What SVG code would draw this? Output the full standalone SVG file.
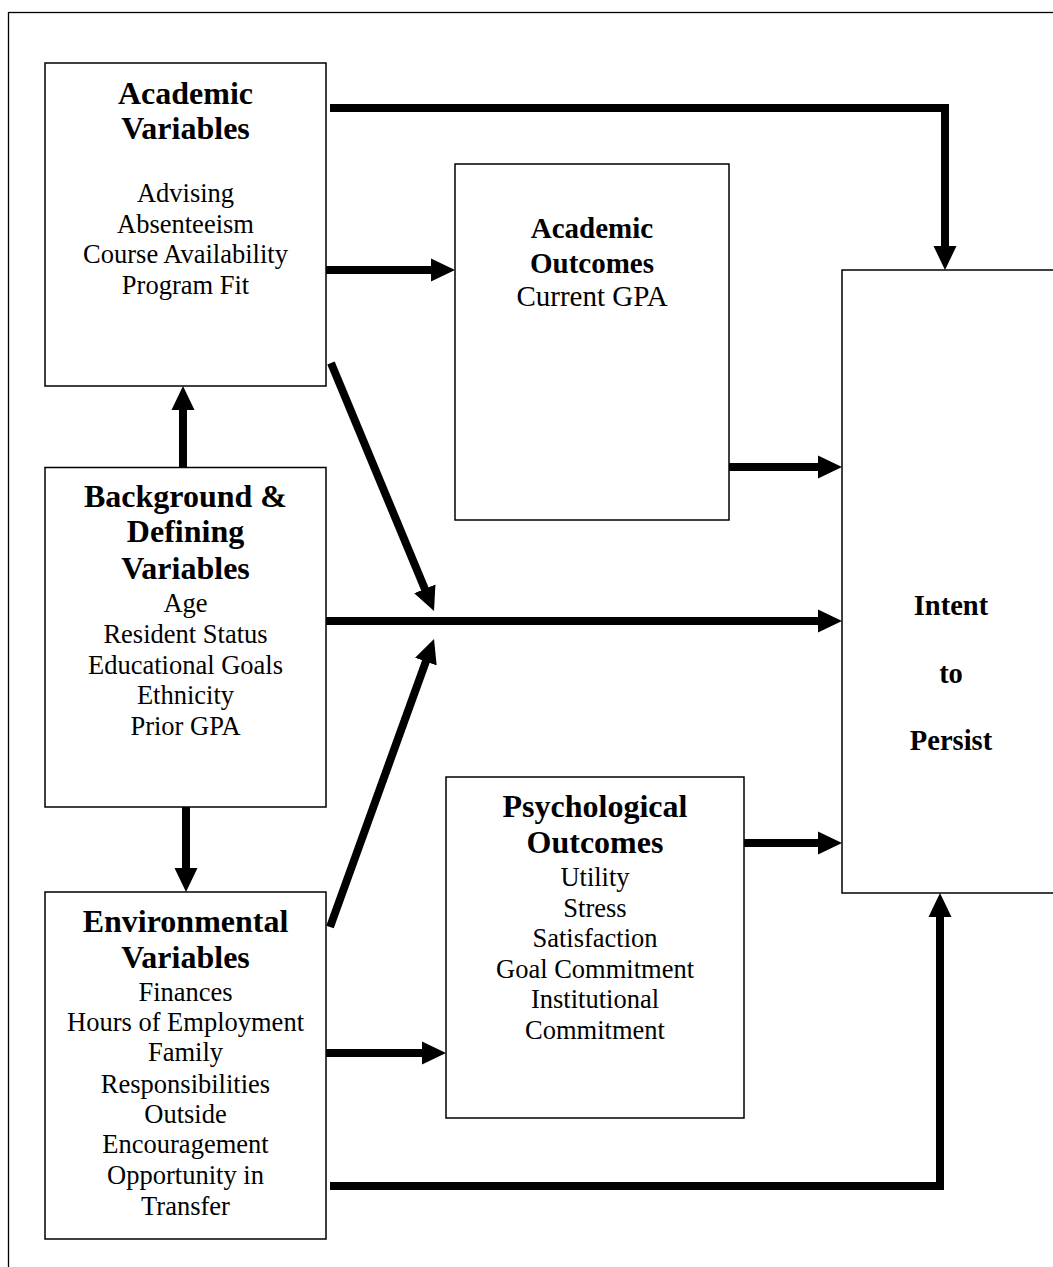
<svg xmlns="http://www.w3.org/2000/svg" width="1053" height="1267" viewBox="0 0 1053 1267">
  <style>
    .frame { fill: none; stroke: #000; stroke-width: 1.3; }
    .box { fill: #fff; stroke: #000; stroke-width: 1.5; }
    .t { font-family: "Liberation Serif", "Times New Roman", serif; fill: #000; text-anchor: middle; }
    .title { font-size: 32px; font-weight: bold; }
    .body { font-size: 26.5px; }
    .ao { font-size: 29px; }
    .goal { font-size: 28.5px; font-weight: bold; }
    .wire { fill: none; stroke: #000; stroke-width: 8; stroke-linejoin: miter; stroke-linecap: butt; marker-end: url(#head); }
  </style>
  <defs>
    <marker id="head" markerUnits="userSpaceOnUse" markerWidth="25" markerHeight="24" viewBox="0 -12 25 24" refX="1" refY="0" orient="auto">
      <path d="M0,-11.5 L24,0 L0,11.5 Z" fill="#000"/>
    </marker>
  </defs>

  <rect class="frame" x="8.5" y="12.5" width="1100" height="1300"/>

  <!-- connectors -->
  <g id="connectors">
    <polyline class="wire" points="330,108 945,108 945,247"/>
    <line class="wire" x1="326" y1="270" x2="432" y2="270"/>
    <line class="wire" x1="729" y1="467" x2="819" y2="467"/>
    <line class="wire" x1="326" y1="621" x2="819" y2="621"/>
    <line class="wire" x1="331" y1="363" x2="425.2" y2="589.8"/>
    <line class="wire" x1="330" y1="927" x2="426.2" y2="660.6"/>
    <line class="wire" x1="183" y1="467" x2="183" y2="409"/>
    <line class="wire" x1="186" y1="807" x2="186" y2="869"/>
    <line class="wire" x1="744" y1="843" x2="819" y2="843"/>
    <line class="wire" x1="326" y1="1053" x2="423" y2="1053"/>
    <polyline class="wire" points="330,1186 940,1186 940,916"/>
  </g>

  <g id="academic-variables">
    <rect class="box" x="45" y="63" width="281" height="323"/>
    <text class="t title" x="185.5" y="104">Academic</text>
    <text class="t title" x="185.5" y="139">Variables</text>
    <text class="t body" x="185.5" y="202">Advising</text>
    <text class="t body" x="185.5" y="232.5">Absenteeism</text>
    <text class="t body" x="185.5" y="263">Course Availability</text>
    <text class="t body" x="185.5" y="294">Program Fit</text>
  </g>

  <g id="academic-outcomes">
    <rect class="box" x="455" y="164" width="274" height="356"/>
    <text class="t ao" font-weight="bold" x="592" y="238">Academic</text>
    <text class="t ao" font-weight="bold" x="592" y="273">Outcomes</text>
    <text class="t ao" x="592" y="306">Current GPA</text>
  </g>

  <g id="background-variables">
    <rect class="box" x="45" y="467.5" width="281" height="339.5"/>
    <text class="t title" x="185.5" y="507">Background &amp;</text>
    <text class="t title" x="185.5" y="542">Defining</text>
    <text class="t title" x="185.5" y="579">Variables</text>
    <text class="t body" x="185.5" y="612">Age</text>
    <text class="t body" x="185.5" y="643">Resident Status</text>
    <text class="t body" x="185.5" y="673.5">Educational Goals</text>
    <text class="t body" x="185.5" y="704">Ethnicity</text>
    <text class="t body" x="185.5" y="735">Prior GPA</text>
  </g>

  <g id="environmental-variables">
    <rect class="box" x="45" y="892" width="281" height="347"/>
    <text class="t title" x="185.5" y="932">Environmental</text>
    <text class="t title" x="185.5" y="968">Variables</text>
    <text class="t body" x="185.5" y="1000.5">Finances</text>
    <text class="t body" x="185.5" y="1031">Hours of Employment</text>
    <text class="t body" x="185.5" y="1061">Family</text>
    <text class="t body" x="185.5" y="1092.5">Responsibilities</text>
    <text class="t body" x="185.5" y="1123">Outside</text>
    <text class="t body" x="185.5" y="1153">Encouragement</text>
    <text class="t body" x="185.5" y="1183.5">Opportunity in</text>
    <text class="t body" x="185.5" y="1215">Transfer</text>
  </g>

  <g id="psychological-outcomes">
    <rect class="box" x="446" y="777" width="298" height="341"/>
    <text class="t title" x="595" y="817">Psychological</text>
    <text class="t title" x="595" y="853">Outcomes</text>
    <text class="t body" x="595" y="886">Utility</text>
    <text class="t body" x="595" y="916.5">Stress</text>
    <text class="t body" x="595" y="947">Satisfaction</text>
    <text class="t body" x="595" y="977.5">Goal Commitment</text>
    <text class="t body" x="595" y="1008">Institutional</text>
    <text class="t body" x="595" y="1038.5">Commitment</text>
  </g>

  <g id="intent-to-persist">
    <rect class="box" x="842" y="270" width="220" height="623"/>
    <text class="t goal" x="951" y="615">Intent</text>
    <text class="t goal" x="951" y="683">to</text>
    <text class="t goal" x="951" y="750">Persist</text>
  </g>
</svg>
